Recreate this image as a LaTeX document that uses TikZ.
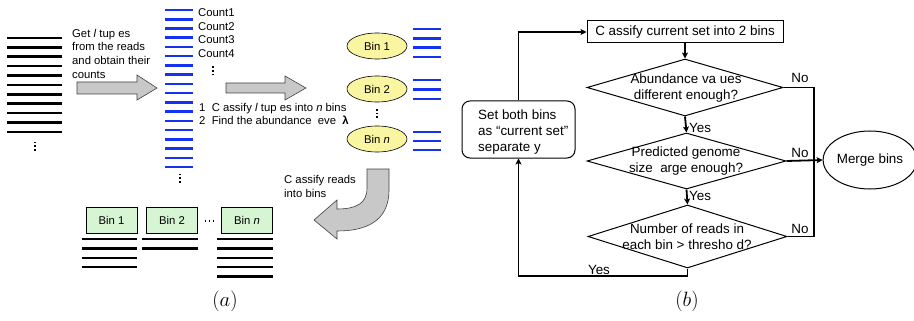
\documentclass[tikz,border=0pt]{standalone}
\usepackage{fontspec}
\setmainfont{Liberation Sans}
\usetikzlibrary{shapes.geometric,arrows.meta}
\definecolor{binyellow}{HTML}{FAF5A0}
\definecolor{bingreen}{HTML}{D6F5D2}
\definecolor{arrowgray}{HTML}{C8C8C8}
\definecolor{readblue}{HTML}{1432F0}
\begin{document}
\begin{tikzpicture}[x=1pt,y=-1pt,
  readline/.style={line width=2.6pt,black},
  blueline/.style={line width=2.6pt,readblue},
  txa/.style={font=\fontsize{11.3}{13.6}\selectfont,inner sep=0pt,align=left},
  txb/.style={font=\fontsize{13.4}{16}\selectfont,inner sep=0pt},
  graybody/.style={fill=arrowgray,draw=black!75,line width=0.6pt,line join=miter},
  yellowbin/.style={ellipse,draw=black,line width=0.6pt,fill=binyellow,minimum width=60pt,minimum height=26pt,inner sep=0pt,font=\fontsize{11.3}{13.6}\selectfont},
  greenbin/.style={rectangle,draw=black,line width=0.6pt,fill=bingreen,minimum width=51pt,minimum height=26pt,inner sep=0pt,font=\fontsize{11.3}{13.6}\selectfont},
  vdt/.pic={\foreach \k in {-3.6,0,3.6} \fill[black] (-0.9,\k-0.9) rectangle (0.9,\k+0.9);},
  hdt/.pic={\foreach \k in {-4,0,4} \fill[black] (\k-0.8,-0.8) rectangle (\k+0.8,0.8);},
  flowbox/.style={rectangle,draw=black,line width=1pt,inner sep=0pt},
  dia/.style={diamond,draw=black,line width=1pt,inner sep=0pt},
  flow/.style={line width=1.8pt,-{Stealth[length=6pt,width=6pt,inset=1.5pt]}},
  flowline/.style={line width=1.8pt},
  caption/.style={inner sep=0pt,font=\fontsize{20}{24}\selectfont}
]
\useasboundingbox (0,0) rectangle (914,321);

% ---------------- panel (a) ----------------
% reads
\foreach \i in {0,...,10} \draw[readline] (7,38+9.4*\i) -- (62,38+9.4*\i);
\pic at (35,146) {vdt};

% text first arrow
\node[txa,anchor=north west] (gettxt) at (72,29) {Get \textit{l} tup es\\from the reads\\and obtain their\\counts};
% gray arrow 1
\path[graybody] (77,82) -- (137,82) -- (137,75) -- (157,88) -- (137,100) -- (137,94) -- (77,94) -- cycle;

% blue l-tuples column
\foreach \i in {0,...,17} \draw[blueline] (165,10+9.24*\i) -- (193,10+9.24*\i);
\pic at (180,178) {vdt};
\node[txa,anchor=west] (c1) at (198,13) {Count1};
\node[txa,anchor=west] (c2) at (198,26.5) {Count2};
\node[txa,anchor=west] (c3) at (198,40) {Count3};
\node[txa,anchor=west] (c4) at (198,53.5) {Count4};
\pic at (213,71) {vdt};

% gray arrow 2
\path[graybody] (226,83) -- (285,83) -- (285,76) -- (306,88) -- (285,100) -- (285,93) -- (226,93) -- cycle;
\node[txa,anchor=base west] (step1) at (199,111) {1\ \ C assify \textit{l} tup es into \textit{n} bins};
\node[txa,anchor=base west] (step2) at (199,124.5) {2\ \ Find the abundance\ \ eve\ \ \textbf{λ}};

% yellow bins
\node[yellowbin] (y1) at (377,46) {Bin 1};
\node[yellowbin] (y2) at (377,89) {Bin 2};
\node[yellowbin] (yn) at (377,139) {Bin \textit{n}};
\pic at (377,113.5) {vdt};
\foreach \y in {29,38.3,47.6,57} \draw[blueline] (413,\y) -- (441,\y);
\foreach \y in {80,89.5,99} \draw[blueline] (413,\y) -- (441,\y);
\foreach \y in {132,141,150} \draw[blueline] (413,\y) -- (441,\y);

% curved gray arrow
\path[graybody] (367,169) -- (389,169) -- (389,190) .. controls (389,222) and (365,231) .. (337,231) -- (337,239) -- (314,220) -- (337,200) -- (337,209) .. controls (357,209) and (367,203) .. (367,188) -- cycle;
\node[txa,anchor=north west] (clstxt) at (284,175.5) {C assify reads\\into bins};

% green bins
\node[greenbin] (g1) at (111.5,220) {Bin 1};
\node[greenbin] (g2) at (172,220) {Bin 2};
\node[greenbin] (gn) at (247,220) {Bin \textit{n}};
\pic at (209.5,221) {hdt};
\foreach \y in {239,248.5,258,267} \draw[readline] (82,\y) -- (137,\y);
\foreach \y in {239,248.5} \draw[readline] (142,\y) -- (198,\y);
\foreach \y in {239,248.5,258,267,276.5} \draw[readline] (217,\y) -- (273,\y);

\node[caption] (capa) at (225,301) {$(a)$};

% ---------------- panel (b) ----------------
\node[flowbox,minimum width=196pt,minimum height=22pt,txb] (b1) at (685,32) {C assify current set into 2 bins};
\node[dia,minimum width=196pt,minimum height=57pt] (d1) at (685,87.5) {};
\node[txb,align=center] (d1t) at (686,88) {Abundance va ues\\different enough?};
\node[dia,minimum width=199pt,minimum height=56pt] (d2) at (686.5,161) {};
\node[txb,align=center] (d2t) at (686,161) {Predicted genome\\size\ \ arge enough?};
\node[dia,minimum width=199pt,minimum height=63pt] (d3) at (687.5,236.5) {};
\node[txb,align=center] (d3t) at (687,237) {Number of reads in\\each bin > thresho d?};
\node[ellipse,draw=black,line width=1pt,minimum width=83pt,minimum height=58pt,inner sep=0pt,txb] (merge) at (870,160) {Merge bins};
\node[rectangle,rounded corners=8pt,draw=black,line width=1pt,minimum width=113pt,minimum height=57pt] (sb) at (518.5,129.5) {};
\node[txb,align=left,anchor=west] (sbt) at (478,132) {Set both bins\\as “current set”\\separate y};

\coordinate (j1) at (814,87.5);
\coordinate (j3) at (814,236.5);
\coordinate (yb) at (687.5,276);

\draw[flow] (b1.south) -- (d1.north);
\draw[flow] (d1.south) -- (d2.north);
\draw[flow] (d2.south) -- (d3.north);
\draw[flowline] (d1.east) -- (j1) -- (j3) -- (d3.east);
\draw[flow] (d2.east) -- (merge.west);
\draw[flow] (d3.south) -- (yb) -| (sb.south);
\draw[flow] (sb.north) |- (b1.west);

\node[txb,anchor=west] (yes1) at (689,128) {Yes};
\node[txb,anchor=west] (yes2) at (689,196) {Yes};
\node[txb] (yes3) at (599,269.5) {Yes};
\node[txb] (no1) at (800,77.5) {No};
\node[txb] (no2) at (800,152.5) {No};
\node[txb] (no3) at (800,228.5) {No};

\node[caption] (capb) at (687,301) {$(b)$};
\end{tikzpicture}
\end{document}
